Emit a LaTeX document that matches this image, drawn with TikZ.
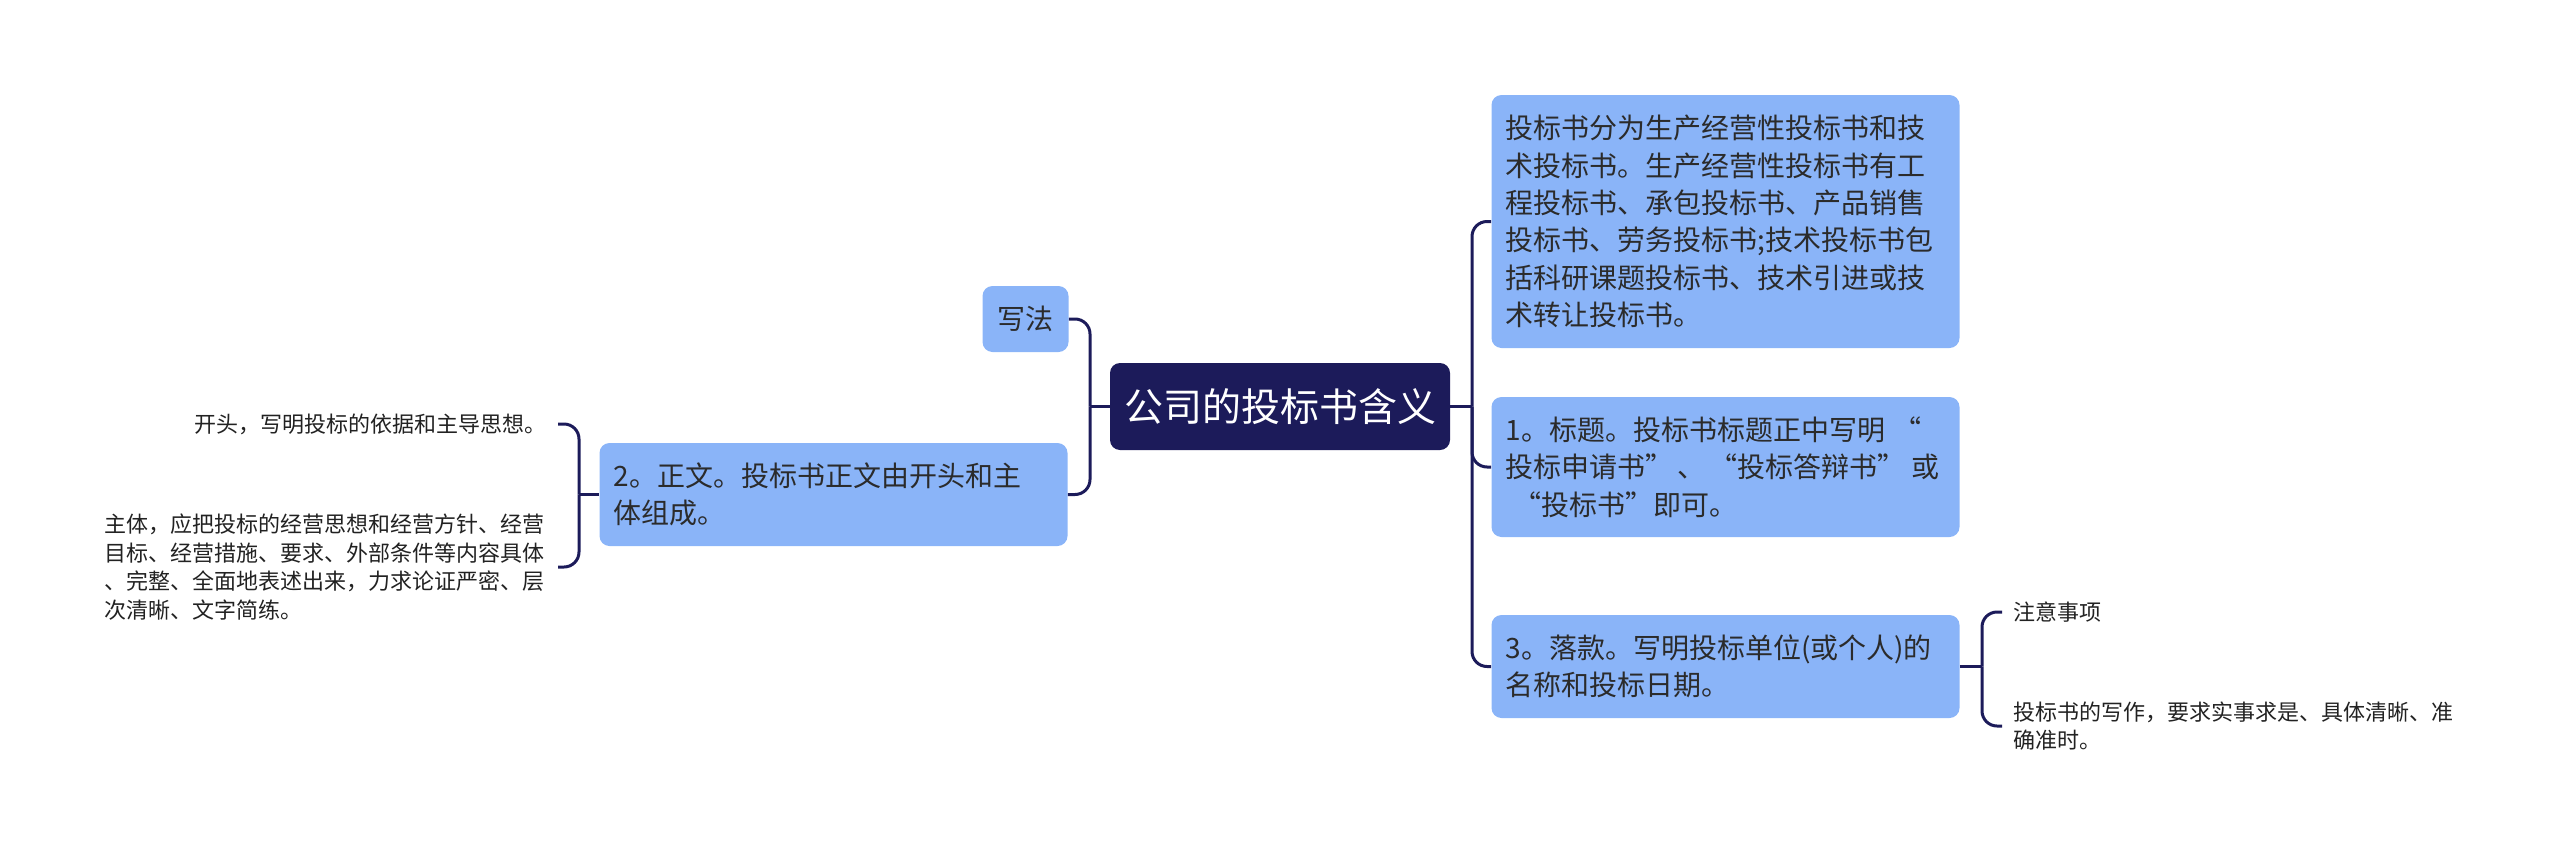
\documentclass[tikz,border=0pt]{standalone}
\usepackage{fontspec}
\setmainfont{Noto Sans CJK SC}
\definecolor{navy}{HTML}{1C1B5A}
\definecolor{boxblue}{HTML}{8AB4F8}
\definecolor{txt}{HTML}{2B2B2B}
\definecolor{leaftxt}{HTML}{222222}
\tikzset{
  root/.style={rectangle, rounded corners=5pt, fill=navy, text=white,
    font=\fontsize{19.5}{24}\selectfont, minimum width=170pt, minimum height=43.5pt, inner sep=0pt},
  box/.style={rectangle, rounded corners=5pt, fill=boxblue, text=txt,
    font=\fontsize{14}{18.65}\selectfont, inner sep=7pt, align=left, text width=220pt},
  smallbox/.style={rectangle, rounded corners=5pt, fill=boxblue, text=txt,
    font=\fontsize{14}{18.65}\selectfont, minimum width=43pt, minimum height=33pt, inner sep=0pt},
  leaf/.style={rectangle, text=leaftxt, font=\fontsize{11}{14.25}\selectfont,
    inner xsep=5.5pt, inner ysep=2pt, align=left},
  conn/.style={draw=navy, line width=1.5pt},
  rc/.style={rounded corners=7.5pt}
}
\begin{document}
\begin{tikzpicture}[x=0.5pt,y=-0.5pt]
\useasboundingbox (0,0) rectangle (2560,857);
\node[root] (root) at (1280,406.5) {公司的投标书含义};
\node[box, minimum height=126.5pt] (n1) at (1725.5,221.5) {投标书分为生产经营性投标书和技\\术投标书。生产经营性投标书有工\\程投标书、承包投标书、产品销售\\投标书、劳务投标书;技术投标书包\\括科研课题投标书、技术引进或技\\术转让投标书。};
\node[box, minimum height=70pt] (n2) at (1725.5,467) {1。标题。投标书标题正中写明\hspace{4pt}“\\\mbox{投标申请书”\hspace{2pt}、\hspace{2pt}“投标答辩书”\hspace{3pt}或}\\\hspace{4pt}“投标书”即可。};
\node[box, minimum height=51.5pt] (n3) at (1725.5,666.5) {3。落款。写明投标单位(或个人)的\\名称和投标日期。};
\node[box, minimum height=51.5pt] (zw) at (833.5,494.5) {2。正文。投标书正文由开头和主\\体组成。};
\node[smallbox] (xf) at (1025.5,319) {写法};
\node[leaf, anchor=west] (la) at (2002,612) {注意事项};
\node[leaf, anchor=west, text width=221pt] (lb) at (2002,726) {投标书的写作，要求实事求是、具体清晰、准\\确准时。};
\node[leaf, anchor=east] (lc) at (558,424) {开头，写明投标的依据和主导思想。};
\node[leaf, anchor=east, text width=221pt] (ld) at (558,567) {主体，应把投标的经营思想和经营方针、经营\\目标、经营措施、要求、外部条件等内容具体\\、完整、全面地表述出来，力求论证严密、层\\次清晰、文字简练。};
\coordinate (lj) at (1090,406.5);
\coordinate (rj) at (1472,406.5);
\coordinate (r3j) at (1982,666.5);
\coordinate (l2j) at (579,494.5);
\draw[conn] (root.west) -- (lj);
\draw[conn, rc] (lj) |- (xf.east);
\draw[conn, rc] (lj) |- (zw.east);
\draw[conn] (root.east) -- (rj);
\draw[conn, rc] (rj) |- (n1.west);
\draw[conn, rc] (rj) |- (n2.west);
\draw[conn, rc] (rj) |- (n3.west);
\draw[conn] (n3.east) -- (r3j);
\draw[conn, rc] (r3j) |- (la.west);
\draw[conn, rc] (r3j) |- (lb.west);
\draw[conn] (zw.west) -- (l2j);
\draw[conn, rc] (l2j) |- (lc.east);
\draw[conn, rc] (l2j) |- (ld.east);
\end{tikzpicture}
\end{document}
